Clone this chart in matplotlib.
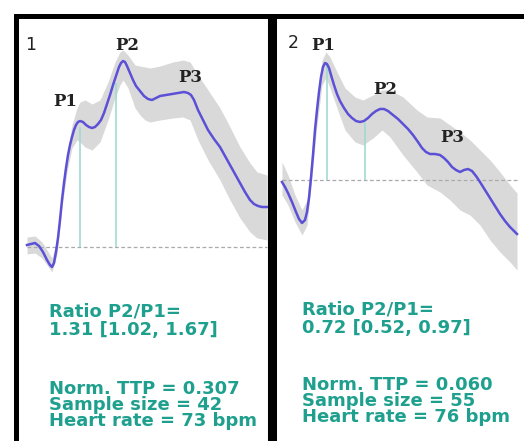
#Pulse waveform panels: mean curve with band, P1/P2/P3 landmarks
import numpy as np
import matplotlib
matplotlib.use("Agg")
import matplotlib.pyplot as plt

# panel 1 (time in samples, amplitude above baseline)
t1 = [10, 14, 18, 22, 26, 30, 33, 35, 37, 39, 41, 43, 45, 47, 49, 51, 53, 55, 57, 59,
      61, 63, 66, 69, 72, 75, 78, 81, 84, 87, 90, 93, 96, 99, 102, 104, 106, 108, 110, 113,
      116, 119, 123, 127, 131, 135, 139, 143, 149, 155, 161, 167, 171, 174, 177, 181, 186, 191, 197, 203,
      208, 213, 218, 223, 228, 233, 237, 241, 245, 250]
mean1 = [2, 3, 4, 1, -5, -13, -18, -20, -16, -5, 9, 27, 47, 64, 79, 92, 102, 110, 117, 122,
         125, 126, 125, 122, 120, 119, 120, 123, 127, 134, 143, 152, 162, 171, 180, 184, 186, 185, 181, 174,
         167, 161, 156, 151, 148, 147, 149, 151, 152, 153, 154, 155, 154, 152, 147, 137, 127, 117, 108, 100,
         91, 82, 73, 64, 55, 47, 43, 41, 40, 40]
band_t1 = [10, 18, 25, 35, 40, 45, 50, 55, 60, 63, 68, 75, 83, 91, 98, 103, 106, 111, 118,
           123, 128, 133, 143, 156, 166, 173, 181, 191, 203, 213, 223, 233, 240, 250]
upper1 = [10, 11, 5, -11, 7, 54, 92, 122, 139, 145, 147, 143, 147, 165, 185, 195, 197, 192, 182,
          181, 180, 179, 181, 185, 187, 185, 172, 157, 139, 120, 100, 84, 75, 72]
lower1 = [-7, -6, -11, -25, -7, 40, 75, 99, 107, 105, 100, 97, 105, 127, 149, 162, 167, 159, 139,
          132, 127, 125, 127, 129, 130, 127, 107, 87, 67, 47, 29, 15, 9, 7]
peaks_t1 = [63, 99]
peaks_amp1 = [120, 164]
labels1 = ["P1", "P2", "P3"]
label_t1 = [48, 110, 173]
label_amp1 = [145, 201, 169]
ratio1 = "Ratio P2/P1=\n1.31 [1.02, 1.67]"
info1 = "Norm. TTP = 0.307\nSample size = 42\nHeart rate = 73 bpm"

# panel 2
t2 = [9, 12, 15, 19, 23, 26, 29, 32, 34, 36, 38, 40, 42, 44, 46, 48, 50, 52, 54, 56,
      58, 61, 64, 67, 71, 75, 79, 83, 87, 91, 95, 99, 103, 107, 111, 115, 120, 125, 130, 135,
      140, 145, 149, 153, 157, 162, 167, 171, 175, 179, 183, 187, 191, 195, 199, 203, 207, 212, 217, 222,
      227, 232, 237, 241, 244]
mean2 = [-2, -7, -13, -22, -32, -39, -43, -40, -32, -18, 2, 25, 50, 70, 88, 103, 113, 117, 116, 112,
         105, 95, 86, 79, 72, 66, 62, 59, 58, 59, 62, 66, 69, 71, 71, 69, 65, 61, 56, 51,
         45, 38, 32, 28, 26, 26, 25, 22, 18, 13, 10, 8, 10, 11, 9, 4, -2, -10, -18, -26,
         -34, -41, -47, -51, -54]
band_t2 = [9, 15, 22, 29, 34, 39, 44, 49, 53, 57, 64, 72, 82, 90, 100, 109, 117, 130, 144,
           154, 167, 177, 187, 197, 207, 217, 227, 237, 244]
upper2 = [18, 5, -15, -30, -20, 30, 80, 120, 128, 123, 108, 92, 83, 80, 85, 90, 90, 83, 70,
          63, 62, 55, 48, 40, 30, 20, 8, -5, -13]
lower2 = [-15, -25, -42, -55, -45, 5, 55, 95, 102, 92, 72, 50, 38, 35, 42, 50, 43, 25, 8,
          -5, -12, -20, -30, -35, -45, -60, -72, -82, -90]
peaks_t2 = [54, 92]
peaks_amp2 = [115, 57]
labels2 = ["P1", "P2", "P3"]
label_t2 = [50, 112, 179]
label_amp2 = [134, 91, 42]
ratio2 = "Ratio P2/P1=\n0.72 [0.52, 0.97]"
info2 = "Norm. TTP = 0.060\nSample size = 55\nHeart rate = 76 bpm"

W, H = 524, 441
fig = plt.figure(figsize=(W/100, H/100), dpi=100)
ax1 = fig.add_axes([16/W, 0, 256/W, (H-15.5)/H])
ax2 = fig.add_axes([272/W, 0, 256/W, (H-15.5)/H])

curve_col = "#5b50d6"
band_col = "#d9d9d9"
mark_col = "#9fdad3"
text_col = "#1fa08e"

panels = [
    (ax1, "1", t1, mean1, band_t1, upper1, lower1, peaks_t1, peaks_amp1, labels1, label_t1, label_amp1,
     ratio1, info1, (-194, 231.5), 14, 202, 32, -74, -158),
    (ax2, "2", t2, mean2, band_t2, upper2, lower2, peaks_t2, peaks_amp2, labels2, label_t2, label_amp2,
     ratio2, info2, (-261, 164.5), 20, 137, 29, -139, -221),
]

for (ax, num, t, m, bt, up, lo, pt, pa, labs, lt, la, ratio, info, yl, nt, na, st, ra, ia) in panels:
    ax.fill_between(bt, lo, up, color=band_col, lw=0, zorder=1)
    ax.hlines(0, t[0], t[-1], colors="#aaaaaa", linestyles=(0, (3, 2)), lw=0.9, zorder=2)
    ax.vlines(pt, 0, pa, colors=mark_col, lw=1.2, zorder=3)
    ax.plot(t, m, color=curve_col, lw=1.8, zorder=4, solid_joinstyle="round")
    for lab, x, y in zip(labs, lt, la):
        ax.text(x, y, lab, family="DejaVu Serif", weight="bold", fontsize=12,
                color="#222222", ha="center", va="center")
    ax.text(nt, na, num, fontsize=12.5, color="#222222", ha="center", va="center")
    ax.text(st, ra, ratio, fontsize=13, weight="bold", color=text_col, ha="left", va="center",
            linespacing=1.05)
    ax.text(st, ia, info, fontsize=13, weight="bold", color=text_col, ha="left", va="center",
            linespacing=0.85)
    ax.set_xlim(-1, 255)
    ax.set_ylim(*yl)
    ax.set_xticks([])
    ax.set_yticks([])
    ax.spines["bottom"].set_visible(False)
    ax.spines["top"].set_linewidth(3.6)
    ax.spines["top"].set_capstyle("projecting")

ax1.spines["left"].set_linewidth(3.6)
ax1.spines["left"].set_capstyle("projecting")
ax1.spines["right"].set_linewidth(6.5)
ax1.spines["right"].set_capstyle("butt")
ax2.spines["left"].set_linewidth(6.5)
ax2.spines["left"].set_capstyle("butt")
ax2.spines["right"].set_visible(False)

fig.savefig("out.png", dpi=100)
